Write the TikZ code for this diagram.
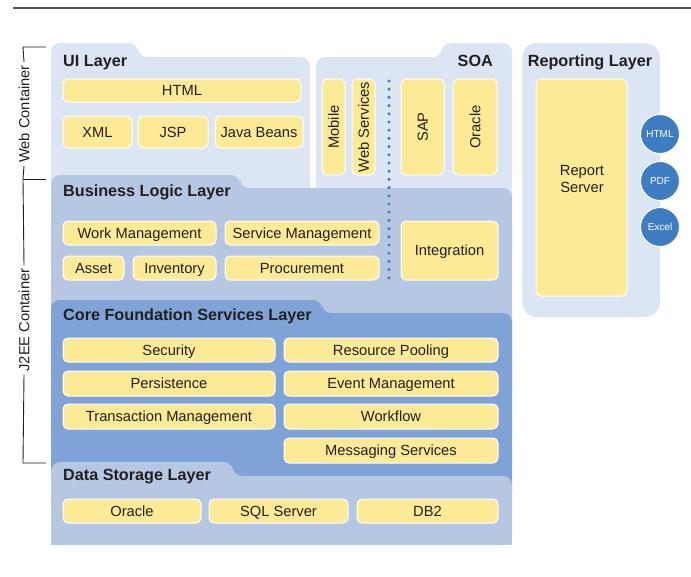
\documentclass[tikz,border=0pt]{standalone}
\usepackage{fontspec}
\setmainfont{Liberation Sans}
\definecolor{lightp}{RGB}{220,229,243}
\definecolor{midp}{RGB}{182,199,228}
\definecolor{corep}{RGB}{127,163,214}
\definecolor{yell}{RGB}{253,234,150}
\definecolor{cblue}{RGB}{62,125,193}
\definecolor{txt}{RGB}{35,31,32}
\definecolor{rule}{RGB}{80,80,80}
\tikzset{
  ybox/.style={fill=yell, draw=white, line width=1pt, rounded corners=5pt, inner sep=0pt, text=txt, font=\fontsize{14.7}{17}\selectfont, text height=10.6pt, text depth=0pt},
  ttl/.style={font=\bfseries\fontsize{16.2}{19}\selectfont, text=txt, inner sep=0pt, text height=11.6pt, text depth=0pt},
  circ/.style={circle, fill=cblue, draw=white, line width=1pt, minimum size=39pt, inner sep=0pt, text=white, font=\fontsize{10}{12}\selectfont},
  brk/.style={draw=txt, line width=0.9pt},
  brktext/.style={rotate=90, text=txt, inner sep=0pt, font=\fontsize{14.7}{17}\selectfont},
  dotsep/.style={draw=cblue, line width=3.4pt, line cap=round, dash pattern=on 0pt off 8.2pt},
}
\newcommand\yb[6]{\node[ybox, minimum width={#4-#2}, minimum height={#5-#3}] (#1) at ({(#2+#4)/2},{(#3+#5)/2}) {#6};}
\newcommand\ybv[6]{\node[ybox, rotate=90, minimum width={#5-#3}, minimum height={#4-#2}] (#1) at ({(#2+#4)/2},{(#3+#5)/2}) {#6};}
\newcommand\panel[7]{\fill[#1, rounded corners=9pt] (#2,#7) -- (#2,#3) -- (#4,#3) -- (#4,#5) -- (#6,#5) -- (#6,#7) -- cycle;}
\begin{document}
\begin{tikzpicture}[x=1pt,y=-1pt]
\useasboundingbox (0,0) rectangle (691,576);
% top rule
\coordinate (r1) at (13,8);
\coordinate (r2) at (691,8);
\draw[rule, line width=1.5pt] (r1) -- (r2);

% upper panels
\panel{lightp}{51}{43}{138}{57}{310}{260}
\fill[lightp, rounded corners=9pt] (316,260) -- (316,57) -- (442,57) -- (442,43) -- (512,43) -- (512,260) -- cycle;
\fill[lightp, rounded corners=15pt] (522,43) rectangle (660,317);

% business logic
\panel{midp}{51}{175}{240}{188}{512}{400}
% core foundation
\panel{corep}{51}{300}{322}{313}{512}{500}
% data storage
\panel{midp}{51}{462}{233}{476}{512}{545}
\fill[midp] (51,520) rectangle (512,545);

% titles
\node[ttl, anchor=west] (tui) at (63,60.5) {UI Layer};
\node[ttl, anchor=east] (tsoa) at (493,60.5) {SOA};
\node[ttl] (trep) at (590,60.5) {Reporting Layer};
\node[ttl, anchor=west] (tbl) at (63,190.5) {Business Logic Layer};
\node[ttl, anchor=west] (tcf) at (63,314.7) {Core Foundation Services Layer};
\node[ttl, anchor=west] (tds) at (63,475) {Data Storage Layer};

% UI layer
\yb{html}{63}{79}{301}{102}{HTML}
\yb{xml}{63}{116}{132}{148}{XML}
\yb{jsp}{138}{116}{208}{148}{JSP}
\yb{jb}{215}{116}{303}{148}{Java Beans}

% SOA
\ybv{mob}{322}{79}{345}{175}{Mobile}
\ybv{ws}{352}{79}{375}{175}{Web Services}
\ybv{sap}{401}{79}{444}{175}{SAP}
\ybv{orc}{453}{79}{497}{175}{Oracle}

% Reporting
\yb{rs}{536}{79}{627}{296}{}
\node[text=txt, align=center, font=\fontsize{14.7}{17}\selectfont, inner sep=0pt] (rst) at (582,179) {Report\\Server};
\node[circ] (chtml) at (660,134) {HTML};
\node[circ] (cpdf) at (660,181) {PDF};
\node[circ] (cxls) at (660,227) {Excel};

% Business logic
\yb{wm}{63}{221}{216}{245}{Work Management}
\yb{sm}{225}{221}{379}{245}{Service Management}
\yb{as}{63}{256}{124}{280}{Asset}
\yb{inv}{133}{256}{216}{280}{Inventory}
\yb{proc}{225}{256}{379}{280}{Procurement}
\yb{integ}{401}{221}{498}{280}{Integration}

% dotted separator
\coordinate (d1) at (389,81);
\coordinate (d2) at (389,278);
\draw[dotsep] (d1) -- (d2);

% Core foundation
\yb{sec}{63}{338}{275}{362}{Security}
\yb{rp}{284}{338}{498}{362}{Resource Pooling}
\yb{per}{63}{371}{275}{396}{Persistence}
\yb{em}{284}{371}{498}{396}{Event Management}
\yb{tm}{63}{404}{275}{429}{Transaction Management}
\yb{wf}{284}{404}{498}{429}{Workflow}
\yb{ms}{284}{438}{498}{463}{Messaging Services}

% Data storage
\yb{dor}{63}{499}{201}{523}{Oracle}
\yb{sql}{209}{499}{348}{523}{SQL Server}
\yb{db2}{357}{499}{498}{523}{DB2}

% brackets
\node[brktext] (wc) at (24,114) {Web Container};
\node[brktext] (je) at (24,320) {J2EE Container};
\coordinate (wt) at (23,47);
\coordinate (wtt) at (46,47);
\coordinate (mid) at (23,179);
\coordinate (midt) at (46,179);
\coordinate (jb) at (23,463);
\coordinate (jbt) at (46,463);
\draw[brk] (wtt) -- (wt) -- ([yshift=3pt]wc.east);
\draw[brk] ([yshift=-3pt]wc.west) -- (mid) -- ([yshift=3pt]je.east);
\draw[brk] (mid) -- (midt);
\draw[brk] ([yshift=-3pt]je.west) -- (jb) -- (jbt);
\end{tikzpicture}
\end{document}
